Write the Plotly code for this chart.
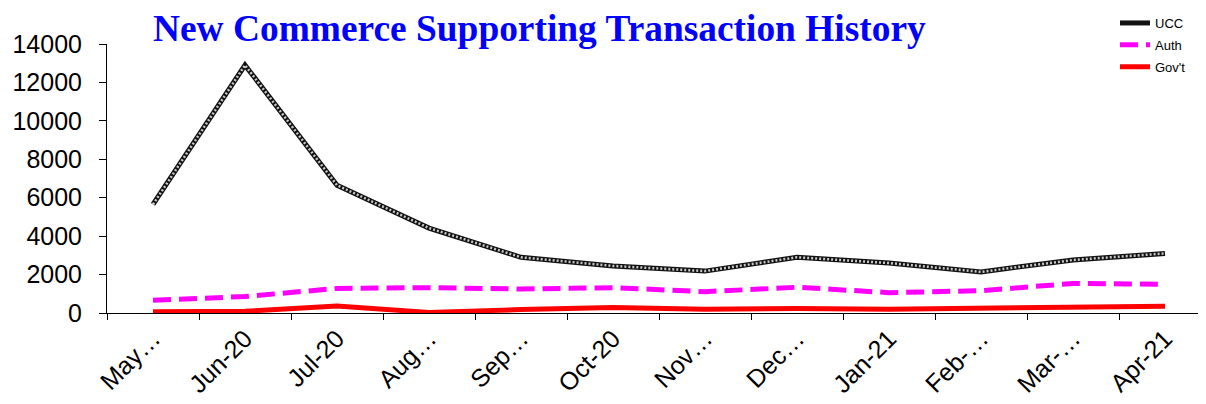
import plotly.graph_objects as go

months = ["May-20", "Jun-20", "Jul-20", "Aug-20", "Sep-20", "Oct-20",
          "Nov-20", "Dec-20", "Jan-21", "Feb-21", "Mar-21", "Apr-21"]
tick_labels = ["May…", "Jun-20", "Jul-20", "Aug…", "Sep…", "Oct-20",
               "Nov…", "Dec…", "Jan-21", "Feb-…", "Mar-…", "Apr-21"]
ucc = [5650, 12900, 6650, 4420, 2900, 2450, 2180, 2900, 2600, 2140, 2760, 3100]
auth = [660, 860, 1280, 1320, 1250, 1320, 1110, 1340, 1060, 1160, 1540, 1490]
govt = [70, 90, 360, 30, 180, 290, 190, 230, 200, 250, 300, 350]

fig = go.Figure()
fig.add_trace(go.Scatter(x=months, y=ucc, mode="lines", name="UCC",
                         line=dict(color="#111111", width=5),
                         legendgroup="a"))
fig.add_trace(go.Scatter(x=months, y=ucc, mode="lines", showlegend=False,
                         line=dict(color="#c8c8c8", width=2.5, dash="2px,2px"),
                         hoverinfo="skip", legendgroup="a"))
fig.add_trace(go.Scatter(x=months, y=auth, mode="lines", name="Auth",
                         line=dict(color="#FF00FF", width=5, dash="18px,8px"),
                         legendgroup="b"))
fig.add_trace(go.Scatter(x=months, y=govt, mode="lines", name="Gov't",
                         line=dict(color="#FF0000", width=5),
                         legendgroup="c"))

# page body has an 8px margin; figure sized to fill the remaining window
W, H = 1198, 396
L, T, B = 99, 36, 91
ph = H - T - B  # plot height

fig.update_layout(
    width=W, height=H,
    margin=dict(l=L, r=0, t=T, b=B, autoexpand=False),
    paper_bgcolor="white", plot_bgcolor="white",
    font=dict(family="Liberation Sans, Arial", color="black"),
    title=dict(text="<b>New Commerce Supporting Transaction History</b>",
               font=dict(family="Liberation Serif, Times New Roman", size=37.4, color="#0000FF"),
               x=(153 - 8) / W, xanchor="left", y=1 - (28 - 8) / H, yanchor="middle"),
    legend=dict(x=(1115 - 107) / (W - L), xanchor="left", y=1 + (44 - 8) / ph, yanchor="top",
                font=dict(size=13), traceorder="grouped", tracegroupgap=2,
                bgcolor="rgba(0,0,0,0)"),
    xaxis=dict(type="category", categoryorder="array", categoryarray=months,
               tickmode="array", tickvals=months, ticktext=tick_labels,
               range=[-0.5, 11.5 - 5/92], tickangle=-45, tickson="boundaries",
               ticks="outside", ticklen=6, tickcolor="black",
               showline=True, linecolor="black", linewidth=1,
               showgrid=False, tickfont=dict(size=25)),
    yaxis=dict(range=[0, 14000], tickvals=list(range(0, 14001, 2000)),
               tickformat="d",
               ticks="outside", ticklen=7, tickcolor="black",
               showline=True, linecolor="black", linewidth=1,
               showgrid=False, zeroline=False, tickfont=dict(size=25),
               ticklabelstandoff=12),
)

fig.write_html("out.html")
